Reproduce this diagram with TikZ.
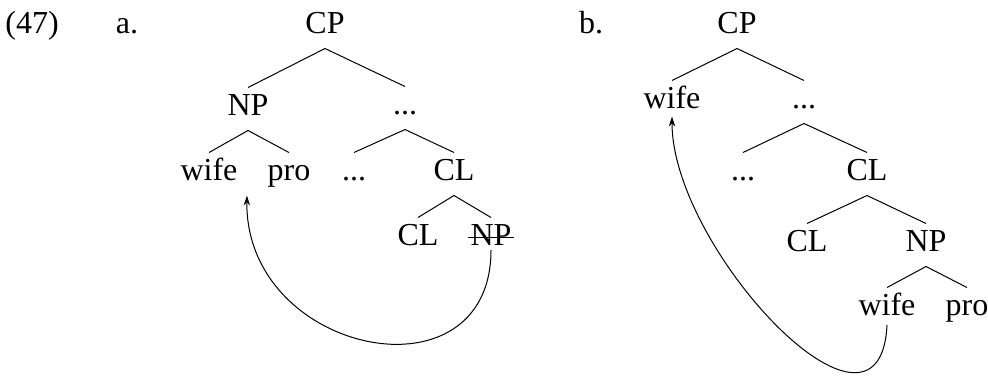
\documentclass[tikz,border=0pt]{standalone}
\usepackage{fontspec}
\setmainfont{Liberation Serif}
\usetikzlibrary{arrows.meta}
\begin{document}
\begin{tikzpicture}[x=0.5pt, y=-0.5pt, >={Stealth[length=5pt,width=3.2pt]}, line width=0.5pt,
  lbl/.style={anchor=base, inner sep=3.5pt, text height=10pt, text depth=4pt, font=\fontsize{16}{19}\selectfont},
  branch/.style={line width=0.5pt}]
\useasboundingbox (0,0) rectangle (988,376);

\node[lbl] (num) at (32,33) {(47)};
\node[lbl] (la) at (127,33) {a.};
\node[lbl] (lb) at (591,33) {b.};

% tree a
\node[lbl] (cpa) at (325,33) {CP};
\node[lbl] (npa) at (248,115) {NP};
\node[lbl] (dta) at (405,114) {...};
\node[lbl] (wa) at (209,180) {wife};
\node[lbl] (pa) at (289,180) {pro};
\node[lbl] (dta2) at (354,180) {...};
\node[lbl] (cla) at (454,180) {CL};
\node[lbl] (cla2) at (418,245) {CL};
\node[lbl] (npa2) at (491,245) {NP};

\draw[branch] (npa.north) -- (cpa.south) -- (dta.north);
\draw[branch] (wa.north) -- (npa.south) -- (pa.north);
\draw[branch] (dta2.north) -- (dta.south) -- (cla.north);
\draw[branch] (cla2.north) -- (cla.south) -- (npa2.north);
\draw ([xshift=2.5pt,yshift=4pt]npa2.base west) -- ([xshift=-2.5pt,yshift=4pt]npa2.base east);
\draw[->] ([yshift=-2.5pt]npa2.base) .. controls (491,405) and (245,355) .. ([xshift=1pt]wa.south east);

% tree b
\node[lbl] (cpb) at (737,33) {CP};
\node[lbl] (wb) at (672,108) {wife};
\node[lbl] (dtb) at (804,108) {...};
\node[lbl] (dtb2) at (743,180) {...};
\node[lbl] (clb) at (867,180) {CL};
\node[lbl] (clb2) at (807,251) {CL};
\node[lbl] (npb) at (926,251) {NP};
\node[lbl] (wb2) at (887,315) {wife};
\node[lbl] (pb) at (967,315) {pro};

\draw[branch] (wb.north) -- (cpb.south) -- (dtb.north);
\draw[branch] (dtb2.north) -- (dtb.south) -- (clb.north);
\draw[branch] (clb2.north) -- (clb.south) -- (npb.north);
\draw[branch] (wb2.north) -- (npb.south) -- (pb.north);
\draw[->] ([yshift=-5pt]wb2.base) .. controls (880,470) and (672,250) .. ([yshift=3.5pt]wb.south);
\end{tikzpicture}
\end{document}
